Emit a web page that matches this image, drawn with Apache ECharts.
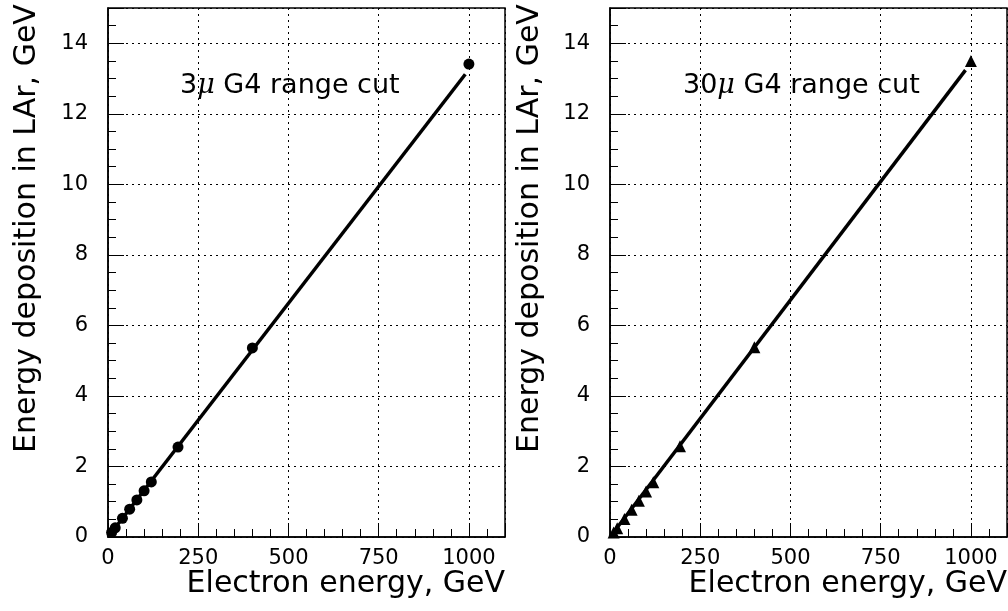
<!DOCTYPE html>
<html>
<head>
<meta charset="utf-8">
<script src="https://cdn.jsdelivr.net/npm/echarts@6/dist/echarts.min.js"></script>
<style>
html,body{margin:0;padding:0;background:#fff;}
#chart{width:1008px;height:611px;}
</style>
</head>
<body>
<div id="chart"></div>
<script>
// ---- data ----
const energies = [10, 20, 40, 60, 80, 100, 120, 194, 400, 1000];
const edep3um = [0.13, 0.26, 0.53, 0.79, 1.05, 1.31, 1.56, 2.55, 5.36, 13.41];
const edep30um = [0.13, 0.25, 0.51, 0.77, 1.03, 1.29, 1.55, 2.57, 5.38, 13.50];
const fitX3 = [0, 990];
const fitY3 = [0, 13.12];
const fitX30 = [0, 985];
const fitY30 = [0, 13.24];
const panelLabels = ['3', '30'];
const xTitle = 'Electron energy, GeV';
const yTitle = 'Energy deposition in LAr, GeV';

const FONT = 'DejaVu Sans, Liberation Sans, sans-serif';
const zip = (a, b) => a.map((v, i) => [v, b[i]]);

function xAxis(idx) {
  return {
    gridIndex: idx, type: 'value', min: 0, max: 1100, interval: 250,
    axisLine: {show: true, lineStyle: {color: '#000', width: 1.5}},
    axisTick: {show: true, inside: true, length: 14, lineStyle: {color: '#000', width: 1}},
    minorTick: {show: true, splitNumber: 5, length: 8, lineStyle: {color: '#000', width: 1}},
    axisLabel: {show: true, showMaxLabel: false, margin: 11, color: '#000', fontFamily: FONT, fontSize: 21,
      formatter: v => String(v)},
    splitLine: {show: true, lineStyle: {color: '#000', width: 1, type: [2, 4]}}
  };
}
function yAxis(idx) {
  return {
    gridIndex: idx, type: 'value', min: 0, max: 15, interval: 2,
    axisLine: {show: true, lineStyle: {color: '#000', width: 1.5}},
    axisTick: {show: true, inside: true, length: 16, lineStyle: {color: '#000', width: 1}},
    minorTick: {show: true, splitNumber: 4, length: 8, lineStyle: {color: '#000', width: 1}},
    axisLabel: {show: true, showMaxLabel: false, margin: 20, color: '#000', fontFamily: FONT, fontSize: 21,
      formatter: v => String(v)},
    splitLine: {show: true, lineStyle: {color: '#000', width: 1, type: [2, 4]}}
  };
}

const grids = [
  {left: 108, top: 8, width: 397, height: 529, show: true, borderColor: '#000', borderWidth: 1.5, backgroundColor: 'transparent'},
  {left: 610, top: 8, width: 397, height: 529, show: true, borderColor: '#000', borderWidth: 1.5, backgroundColor: 'transparent'}
];

function annot(x, y, num) {
  return {
    type: 'text', left: x, top: y,
    style: {
      text: '{n|' + num + '}{m|\u03bc}{n| G4 range cut}',
      rich: {
        n: {fontFamily: FONT, fontSize: 27, fill: '#000'},
        m: {fontFamily: 'DejaVu Serif, serif', fontStyle: 'italic', fontSize: 27, fill: '#000'}
      },
      fill: '#000'
    }
  };
}
function yTitleEl(x) {
  return {
    type: 'text', x: x, y: 453, rotation: Math.PI / 2,
    style: {text: yTitle, fontFamily: FONT, fontSize: 30, fill: '#000', align: 'left', verticalAlign: 'middle'}
  };
}
function xTitleEl(x) {
  return {
    type: 'text', x: x, y: 584,
    style: {text: xTitle, fontFamily: FONT, fontSize: 30, fill: '#000', align: 'right', verticalAlign: 'middle'}
  };
}

const option = {
  backgroundColor: '#fff',
  animation: false,
  grid: grids,
  xAxis: [xAxis(0), xAxis(1)],
  yAxis: [yAxis(0), yAxis(1)],
  series: [
    {type: 'line', xAxisIndex: 0, yAxisIndex: 0, data: zip(fitX3, fitY3), symbol: 'none',
     lineStyle: {color: '#000', width: 3.5}, z: 3},
    {type: 'scatter', xAxisIndex: 0, yAxisIndex: 0, data: zip(energies, edep3um), symbol: 'circle',
     symbolSize: 11, itemStyle: {color: '#000', opacity: 1}, z: 4},
    {type: 'line', xAxisIndex: 1, yAxisIndex: 1, data: zip(fitX30, fitY30), symbol: 'none',
     lineStyle: {color: '#000', width: 3.5}, z: 3},
    {type: 'scatter', xAxisIndex: 1, yAxisIndex: 1, data: zip(energies, edep30um), symbol: 'triangle',
     symbolSize: 12, itemStyle: {color: '#000', opacity: 1}, z: 4}
  ],
  graphic: [
    annot(180, 72, panelLabels[0]),
    annot(683, 72, panelLabels[1]),
    yTitleEl(27), yTitleEl(530),
    xTitleEl(505), xTitleEl(1007)
  ]
};

const chart = echarts.init(document.getElementById('chart'), null, {renderer: 'canvas'});
chart.setOption(option);
</script>
</body>
</html>
